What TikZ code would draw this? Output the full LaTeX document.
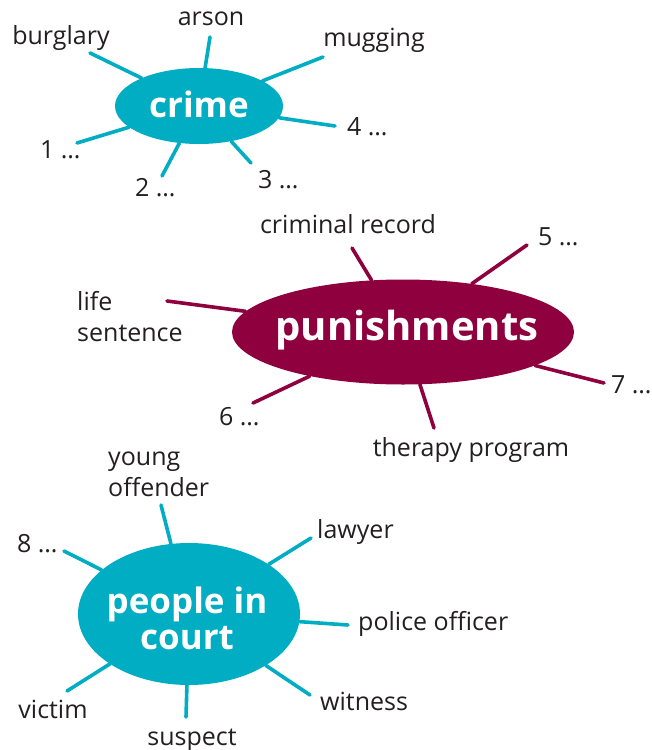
\documentclass[tikz,border=0pt]{standalone}
\usepackage{fontspec}
\setmainfont{Open Sans}
\usetikzlibrary{shapes.geometric, positioning}

\definecolor{crimeblue}{HTML}{00ADC2}
\definecolor{punred}{HTML}{8E003E}
\definecolor{ink}{HTML}{231F20}

\tikzset{
  hub/.style={ellipse, fill=#1, inner sep=0pt},
  hubtext/.style={text=white, inner sep=0pt, align=center,
    font=\bfseries\fontsize{35}{36}\selectfont},
  spoke/.style={draw=#1, line width=3.6pt, line cap=round},
  word/.style={text=ink, inner sep=0pt, align=left,
    text height=20pt, text depth=3pt,
    font=\fontsize{25}{31}\selectfont},
}

\begin{document}
\begin{tikzpicture}[x=1pt, y=-1pt]
  \useasboundingbox (0,0) rectangle (652,750);

  % crime
  \node[hub=crimeblue, minimum width=168pt, minimum height=76pt] (crime) at (199,106) {};
  \node[hubtext] (crimetext) at (199,104) {crime};

  \coordinate (burglaryend) at (90,53);
  \coordinate (arsonend) at (210,37);
  \coordinate (muggingend) at (323,57);
  \coordinate (fourend) at (335,126);
  \coordinate (threeend) at (251,163);
  \coordinate (twoend) at (162,176);
  \coordinate (oneend) at (77,143);
  \foreach \e in {burglaryend,arsonend,muggingend,fourend,threeend,twoend,oneend}
    \draw[spoke=crimeblue] (crime) -- (\e);

  \node[word] (burglary) at (61,36) {burglary};
  \node[word] (arson) at (211,17) {arson};
  \node[word] (mugging) at (374,38) {mugging};
  \node[word, anchor=west] (four) at (347,127) {4 …};
  \node[word, anchor=west] (three) at (258,180) {3 …};
  \node[word, anchor=west] (two) at (135,188) {2 …};
  \node[word, anchor=west] (one) at (40,150) {1 …};

  % punishments
  \node[hub=punred, minimum width=342pt, minimum height=105pt] (pun) at (403,332) {};
  \node[hubtext, font=\bfseries\fontsize{40}{40}\selectfont] (puntext) at (407,330) {punishments};

  \coordinate (recordend) at (352,248);
  \coordinate (fiveend) at (527,245);
  \coordinate (sevenend) at (604,383);
  \coordinate (lifeend) at (167,301);
  \coordinate (sixend) at (253,403);
  \coordinate (therapyend) at (434,428);
  \foreach \e in {recordend,fiveend,sevenend,lifeend,sixend,therapyend}
    \draw[spoke=punred] (pun) -- (\e);

  \node[word] (record) at (348,225) {criminal record};
  \node[word, anchor=west] (five) at (538,237) {5 …};
  \node[word, anchor=west] (seven) at (611,385) {7 …};
  \node[word, anchor=west, text height=, text depth=] (life) at (77,317) {life\\sentence};
  \node[word, anchor=west] (six) at (219,417) {6 …};
  \node[word] (therapy) at (471,448) {therapy program};

  % people in court
  \node[hub=crimeblue, minimum width=222pt, minimum height=142pt] (court) at (189,614) {};
  \node[hubtext] (courttext) at (187,618) {people in\\court};

  \coordinate (youngend) at (161,505);
  \coordinate (lawyerend) at (311,538);
  \coordinate (policeend) at (348,625);
  \coordinate (witnessend) at (310,695);
  \coordinate (suspectend) at (186,717);
  \coordinate (victimend) at (67,691);
  \coordinate (eightend) at (64,551);
  \foreach \e in {youngend,lawyerend,policeend,witnessend,suspectend,victimend,eightend}
    \draw[spoke=crimeblue] (court) -- (\e);

  \node[word, anchor=west, text height=, text depth=] (young) at (108,474) {young\\offender};
  \node[word, anchor=west] (lawyer) at (317,530) {lawyer};
  \node[word, anchor=west] (police) at (358,622) {police officer};
  \node[word, anchor=west] (witness) at (320,702) {witness};
  \node[word] (suspect) at (192,737) {suspect};
  \node[word] (victim) at (53,710) {victim};
  \node[word, anchor=west] (eight) at (17,544) {8 …};
\end{tikzpicture}
\end{document}
